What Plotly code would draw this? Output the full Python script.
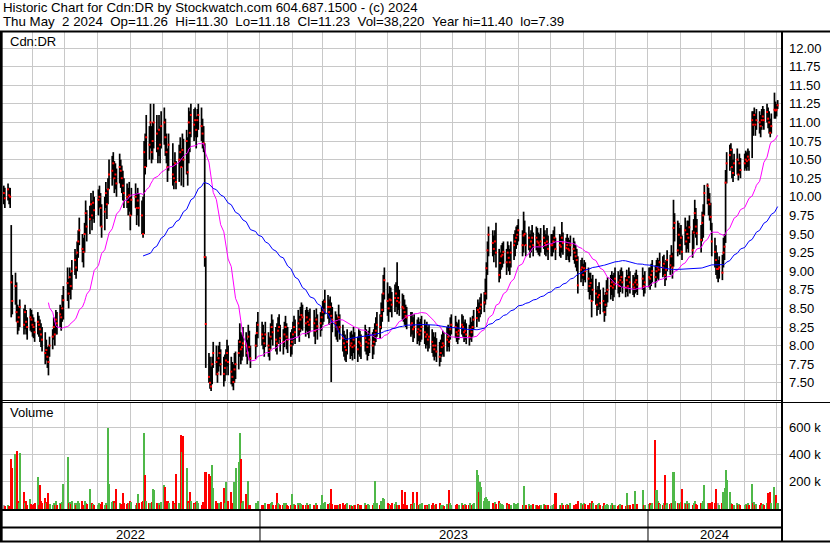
import numpy as np
import pandas as pd
import plotly.graph_objects as go

# ---------------- data ----------------
holidays = ["2022-05-23", "2022-07-01", "2022-08-01", "2022-09-05", "2022-10-10",
            "2022-12-26", "2022-12-27", "2023-01-02", "2023-02-20", "2023-04-07",
            "2023-05-22", "2023-07-03", "2023-08-07", "2023-09-04", "2023-10-09",
            "2023-12-25", "2023-12-26", "2024-01-01", "2024-02-19", "2024-03-29"]

# prices in cents
close_c = [
    1005, 998, 1010, 1002, 1000,
    885,
    860, 880, 845, 832, 838,
    852, 828, 845, 832, 825, 838, 835, 828,
    825, 818, 832, 828, 822, 815, 808,
    790, 794, 785, 778, 800, 812,
    825, 815, 835, 830, 842, 838, 850, 861,
    884, 870, 892, 880, 900, 915, 905, 925,
    940, 955, 930, 926, 950, 978, 960, 970, 990, 975,
    992, 982, 996, 1000, 985, 960, 980, 1005, 990, 1010, 1030,
    1035, 1045, 1025, 1030, 1018, 1040, 1035, 1025, 1015, 1005,
    1000, 993, 1002, 975, 996, 1000, 985, 995, 985, 975,
    950,
    1060, 1040, 1080, 1070, 1100, 1060, 1075, 1100, 1085, 1065, 1090, 1070, 1095, 1100, 1080,
    1060, 1040, 1070, 1030, 1025, 1045, 1020, 1050, 1060, 1040,
    1063, 1050, 1075, 1033, 1100, 1086, 1110, 1097, 1103, 1090, 1103, 1110, 1095, 1085, 1072,
    919, 829,
    758, 750, 745, 775, 790, 778, 762,
    783, 790, 775, 762, 770, 780, 790, 778, 765, 758, 751, 768, 775, 790, 805, 795, 798, 803,
    800, 790, 812, 798, 783, 800, 817, 828, 815,
    810, 803, 815, 800, 795, 812, 825, 818, 808, 803, 820, 825, 810, 805, 815, 825, 812, 808, 800, 805,
    815, 825, 818, 830, 822, 835, 841, 838, 830, 838, 832, 828, 835, 830, 820, 835, 826, 830, 838, 845,
    848, 859, 852, 845, 852, 840, 835, 830, 825, 822,
    838, 825, 810, 803, 798, 794, 805, 800, 803, 798, 808, 800, 795, 805, 803, 800, 810, 805, 798, 803, 808, 800, 805,
    815, 820, 828, 825, 840, 848, 870, 888, 860, 850, 862, 861, 855, 864, 870, 860, 864, 858, 852, 850, 845,
    840, 838, 828, 830, 822, 825, 818, 822, 815, 820, 825, 818, 812, 815, 808, 812, 805, 800, 795, 800, 792, 785, 790, 798, 803, 800, 808, 812,
    805, 822, 828, 825, 818, 815, 820, 828, 825, 818, 820, 815, 812, 822, 818, 825,
    835, 837, 848, 845, 850, 855, 858, 870, 904,
    928, 949, 938, 930, 940, 925, 895, 911, 920, 922, 926, 912, 925, 918, 912, 925, 935, 940,
    945, 949, 955, 935, 948, 950, 935, 945, 933, 940, 945, 935, 945, 940, 938, 935, 940, 945, 938, 935, 940, 930, 935,
    935, 940, 945, 930, 935, 933, 945, 938, 931, 935, 930, 928, 935, 930, 925, 920, 915,
    881, 902, 905, 895, 904, 900, 890, 880, 884, 860,
    875, 870, 855, 865, 868, 857, 860, 845, 855, 870, 875, 880, 885, 878, 882,
    890, 885, 880, 888, 892, 885, 878, 888, 880, 892, 885, 882, 878, 885, 888, 882, 890, 880, 885, 892, 890, 895, 900, 892, 900, 905,
    902, 912, 905, 910, 895, 902, 915, 908, 920, 905,
    958,
    965, 928, 949, 935, 945, 926, 955, 940, 950,
    945, 959, 928, 952, 978, 960, 951, 942, 965, 975, 1005, 1015, 996, 990,
    973, 940, 926, 915, 903, 903, 905, 898, 925, 933,
    1019,
    1045, 1056, 1063, 1040, 1032, 1045, 1050, 1030, 1045, 1036,
    1045, 1050, 1048, 1054, 1050, 1103, 1097, 1110,
    1097, 1103, 1100, 1095, 1103, 1108, 1103, 1114, 1105, 1100, 1086, 1095, 1117, 1116,
    1117, 1123,
]

high_c = [
    1015, 1012, 1018, 1012, 1012,
    962,
    895, 898, 885, 855, 852,
    862, 850, 855, 848, 838, 850, 848, 842,
    838, 832, 845, 840, 835, 830, 825,
    818, 808, 798, 800, 812, 822,
    838, 832, 848, 845, 855, 852, 868, 880,
    905, 890, 905, 898, 915, 930, 922, 940,
    955, 972, 950, 945, 965, 995, 982, 988, 1005, 995,
    1008, 1000, 1010, 1015, 1005, 990, 1000, 1020, 1010, 1025, 1050,
    1055, 1060, 1048, 1045, 1038, 1058, 1050, 1042, 1035, 1025,
    1018, 1012, 1020, 1000, 1012, 1018, 1005, 1012, 1005, 995,
    1000,
    1075, 1085, 1110, 1095, 1125, 1095, 1100, 1125, 1110, 1090, 1110, 1095, 1115, 1120, 1105,
    1085, 1065, 1085, 1072, 1045, 1060, 1048, 1070, 1080, 1065,
    1085, 1078, 1090, 1080, 1120, 1115, 1125, 1118, 1120, 1108, 1118, 1125, 1120, 1105, 1095,
    1072, 920,
    790, 785, 772, 785, 805, 800, 785,
    800, 805, 795, 785, 788, 795, 808, 800, 785, 778, 775, 790, 792, 808, 830, 818, 815, 825,
    818, 808, 828, 820, 800, 815, 832, 845, 832,
    828, 818, 832, 818, 812, 830, 842, 835, 825, 830, 838, 842, 828, 822, 832, 840, 830, 825, 818, 822,
    832, 840, 835, 848, 840, 852, 858, 855, 848, 852, 848, 845, 850, 848, 838, 850, 842, 845, 852, 860,
    862, 875, 868, 862, 866, 858, 852, 846, 842, 838,
    855, 842, 828, 820, 815, 810, 822, 818, 820, 815, 825, 818, 812, 822, 820, 815, 828, 822, 815, 820, 825, 818, 822,
    830, 838, 845, 842, 858, 870, 895, 905, 885, 870, 880, 878, 872, 882, 885, 912, 880, 875, 870, 868, 862,
    855, 852, 845, 845, 838, 842, 835, 838, 832, 836, 840, 835, 828, 832, 825, 828, 822, 818, 812, 818, 810, 805, 808, 815, 820, 818, 825, 828,
    825, 838, 842, 840, 832, 830, 835, 842, 840, 832, 835, 830, 828, 838, 832, 840,
    848, 852, 862, 858, 865, 870, 872, 890, 912,
    940, 960, 955, 948, 955, 965, 930, 925, 935, 938, 940, 930, 940, 935, 930, 940, 950, 955,
    960, 962, 970, 955, 980, 968, 952, 960, 950, 955, 962, 952, 960, 958, 952, 950, 958, 962, 955, 950, 958, 948, 950,
    950, 955, 960, 945, 950, 948, 966, 952, 945, 950, 945, 942, 948, 945, 940, 935, 930,
    920, 915, 918, 910, 915, 912, 905, 898, 898, 890,
    895, 890, 875, 880, 885, 875, 878, 868, 872, 888, 892, 895, 900, 895, 898,
    905, 900, 895, 902, 905, 900, 892, 902, 895, 905, 900, 895, 892, 898, 902, 895, 905, 895, 900, 905, 905, 910, 915, 908, 915, 918,
    915, 925, 920, 922, 912, 915, 928, 922, 935, 925,
    996,
    978, 968, 965, 958, 962, 948, 972, 960, 968,
    968, 975, 955, 970, 996, 985, 970, 962, 980, 990, 1016, 1018, 1012, 1005,
    992, 965, 945, 935, 925, 915, 920, 922, 945, 950,
    1036,
    1060, 1070, 1072, 1065, 1050, 1058, 1065, 1048, 1058, 1052,
    1058, 1062, 1060, 1065, 1062, 1115, 1115, 1120,
    1112, 1118, 1115, 1110, 1118, 1122, 1118, 1125, 1120, 1115, 1105, 1112, 1140, 1128,
    1125, 1130,
]

low_c = [
    990, 985, 995, 990, 985,
    838,
    842, 855, 832, 815, 820,
    825, 815, 822, 815, 808, 820, 818, 812,
    810, 805, 815, 812, 805, 798, 792,
    775, 780, 770, 760, 785, 795,
    808, 800, 815, 815, 825, 820, 832, 835,
    860, 850, 868, 862, 875, 895, 890, 900,
    918, 935, 912, 905, 925, 950, 940, 950, 968, 955,
    970, 965, 975, 985, 960, 945, 955, 985, 970, 990, 1010,
    1015, 1025, 1005, 1010, 1000, 1018, 1012, 1005, 995, 985,
    985, 975, 980, 955, 975, 985, 962, 975, 960, 950,
    945,
    950, 1030, 1040, 1050, 1065, 1045, 1050, 1065, 1060, 1045, 1055, 1045, 1065, 1070, 1055,
    1045, 1020, 1035, 1015, 1010, 1020, 1010, 1020, 1040, 1015,
    1040, 1013, 1030, 1015, 1045, 1060, 1080, 1075, 1080, 1065, 1080, 1090, 1075, 1065, 1060,
    906, 770,
    750, 742, 739, 748, 770, 760, 750,
    765, 772, 760, 745, 752, 760, 772, 760, 748, 745, 740, 750, 755, 768, 785, 775, 780, 785,
    785, 775, 792, 780, 770, 782, 798, 810, 800,
    795, 785, 798, 785, 780, 795, 808, 800, 792, 788, 802, 808, 792, 788, 798, 808, 795, 790, 785, 788,
    800, 808, 802, 812, 805, 818, 822, 820, 812, 820, 815, 810, 818, 812, 802, 818, 808, 812, 820, 828,
    832, 842, 836, 828, 835, 751, 818, 812, 808, 805,
    818, 808, 792, 785, 780, 778, 788, 782, 786, 780, 790, 782, 778, 788, 785, 782, 792, 788, 780, 786, 790, 782, 788,
    800, 805, 812, 810, 822, 832, 845, 862, 840, 832, 845, 845, 838, 845, 852, 842, 848, 840, 835, 832, 828,
    825, 822, 812, 815, 805, 810, 802, 806, 800, 805, 808, 802, 796, 800, 792, 796, 790, 785, 780, 785, 778, 772, 778, 785, 788, 785, 792, 798,
    792, 808, 815, 810, 805, 802, 808, 815, 812, 805, 808, 802, 800, 808, 805, 812,
    822, 825, 835, 832, 838, 842, 845, 855, 862,
    895, 920, 920, 912, 922, 905, 885, 890, 902, 905, 910, 895, 905, 900, 895, 905, 915, 920,
    930, 935, 940, 920, 925, 935, 920, 928, 918, 925, 930, 920, 928, 925, 922, 920, 925, 930, 922, 920, 925, 915, 920,
    920, 925, 930, 915, 920, 918, 925, 922, 915, 920, 915, 912, 920, 915, 910, 905, 900,
    870, 885, 890, 880, 888, 885, 872, 862, 868, 838,
    860, 855, 840, 848, 852, 842, 845, 832, 840, 852, 858, 862, 868, 860, 865,
    875, 870, 865, 872, 878, 870, 865, 872, 866, 878, 870, 868, 865, 870, 872, 868, 875, 866, 870, 878, 875, 880, 885, 878, 885, 890,
    888, 898, 892, 895, 880, 888, 900, 895, 905, 890,
    906,
    940, 920, 925, 922, 928, 915, 935, 925, 930,
    925, 938, 918, 930, 950, 945, 935, 925, 940, 945, 975, 990, 975, 968,
    955, 920, 905, 895, 890, 885, 890, 888, 905, 915,
    938,
    1018, 1035, 1040, 1025, 1020, 1028, 1030, 1022, 1030, 1025,
    1035, 1038, 1035, 1040, 1035, 1052, 1082, 1095,
    1082, 1090, 1085, 1080, 1090, 1095, 1090, 1100, 1092, 1085, 1080, 1085, 1105, 1105,
    1108, 1118,
]

# volume in thousands of shares
vol_k = [
    25, 18, 30, 22, 20,
    368,
    298, 403, 426, 60, 45,
    415, 123, 40, 55, 30, 70, 35, 25,
    35, 40, 233, 30, 175, 60, 45,
    80, 40, 50, 119, 35, 30,
    45, 30, 55, 25, 40, 35, 50, 182,
    384, 40, 50, 35, 60, 45, 30, 40,
    55, 45, 60, 25, 55, 40, 35, 147, 30, 40,
    35, 30, 25, 40, 35, 50, 30, 45, 25, 601, 182,
    50, 60, 60, 40, 147, 45, 35, 30, 119, 40,
    35, 40, 45, 60, 50, 30, 45, 107, 40, 50,
    55,
    562, 247, 60, 45, 40, 50, 146, 135, 45, 35, 40, 30, 50, 175, 158,
    50, 60, 45, 55, 40, 35, 259, 45, 40, 548,
    422, 538, 298, 60, 45, 123, 55, 40, 35, 50, 60, 45, 30, 50, 45,
    275, 268,
    256, 240, 198, 322, 151, 60, 45,
    45, 35, 50, 151, 40, 198, 45, 55, 123, 40, 35, 197, 298, 345, 561, 368, 40, 60,
    112, 35, 205, 30, 25, 40, 35, 55, 30,
    30, 25, 40, 35, 20, 45, 50, 30, 25, 116, 40, 35, 30, 25, 45, 40, 30, 20, 25, 107,
    30, 35, 25, 40, 30, 45, 35, 25, 30, 40, 25, 30, 35, 25, 30, 40, 25, 30, 100, 45,
    45, 50, 35, 30, 40, 146, 35, 30, 25, 30,
    25, 35, 40, 30, 25, 35, 45, 30, 25, 20, 30, 25, 35, 30, 25, 30, 40, 25, 30, 35, 25, 30, 40,
    204, 45, 40, 25, 55, 60, 80, 70, 40, 35, 30, 25, 40, 35, 50, 30, 25, 30, 135, 35, 123,
    30, 25, 35, 30, 123, 40, 123, 30, 25, 35, 40, 30, 25, 20, 30, 35, 25, 40, 30, 25, 35, 45, 30, 30, 25, 20, 35, 30,
    135, 40, 30, 25, 35, 30, 25, 40, 30, 25, 35, 30, 25, 40, 30, 35,
    40, 285, 250, 123, 197, 158, 60, 80, 90,
    70, 60, 45, 40, 50, 35, 55, 40, 30, 35, 25, 40, 30, 35, 25, 30, 40, 35,
    35, 30, 40, 25, 170, 30, 25, 35, 20, 30, 25, 35, 30, 25, 20, 30, 25, 35, 30, 25, 30, 25, 20,
    30, 25, 35, 118, 30, 25, 40, 30, 25, 35, 30, 25, 40, 30, 25, 35, 30,
    60, 40, 35, 30, 45, 35, 30, 40, 45, 55,
    40, 30, 25, 35, 40, 25, 20, 45, 30, 35, 25, 30, 40, 25, 30,
    25, 20, 30, 35, 25, 30, 20, 116, 25, 30, 25, 35, 30, 128, 30, 35, 139, 25, 30, 35, 40, 30, 45, 505, 139, 60,
    40, 35, 30, 45, 246, 30, 40, 35, 45, 40,
    274,
    60, 45, 40, 35, 50, 142, 40, 35, 55,
    35, 40, 30, 45, 60, 35, 30, 40, 45, 55, 176, 45, 40, 35,
    40, 50, 45, 146, 35, 40, 30, 45, 120, 150,
    290,
    211, 123, 40, 35, 30, 25, 45, 30, 35, 25,
    30, 35, 25, 40, 30, 181, 45, 50,
    30, 35, 25, 40, 30, 35, 25, 40, 116, 30, 123, 45, 162, 100,
    45, 38.22,
]

price_ticks = [7.50, 7.75, 8.00, 8.25, 8.50, 8.75, 9.00, 9.25, 9.50, 9.75,
               10.00, 10.25, 10.50, 10.75, 11.00, 11.25, 11.50, 11.75, 12.00]
vol_ticks = [200, 400, 600]
vol_tick_text = ["200 k", "400 k", "600 k"]
years = ["2022", "2023", "2024"]
ma_windows = [30, 90]

header1 = "Historic Chart for Cdn:DR by Stockwatch.com 604.687.1500 - (c) 2024"
header2 = ("Thu May \u00a02 2024 \u00a0Op=11.26 \u00a0Hi=11.30 \u00a0Lo=11.18 \u00a0Cl=11.23 "
           "\u00a0Vol=38,220 \u00a0Year hi=11.40 \u00a0lo=7.39")

# ---------------- derived series ----------------
dates = pd.bdate_range("2022-05-05", "2024-05-02", freq="C", holidays=holidays)
n = min(len(dates), len(close_c), len(high_c), len(low_c), len(vol_k))
dates = dates[-n:]
close = np.array(close_c[-n:], dtype=float) / 100
high = np.array(high_c[-n:], dtype=float) / 100
low = np.array(low_c[-n:], dtype=float) / 100
vol = np.array(vol_k[-n:], dtype=float)

s = pd.Series(close, index=dates)
ma_fast = s.rolling(ma_windows[0]).mean()
ma_slow = s.rolling(ma_windows[1]).mean()

GREEN, RED, GREY = "#4fb848", "#ff0000", "#a8a8a8"
chg = np.diff(close, prepend=np.nan)
vcol = np.where(chg > 0, GREEN, np.where(chg < 0, RED, GREY))

# ---------------- geometry ----------------
W, H = 830, 543
PX_PER_DAY = 388 / 365
X_LEFT, X_RIGHT = 2, 781
FIRST_PX = 3.8
t0 = dates[0]
r0 = t0 - pd.Timedelta(days=(FIRST_PX - X_LEFT) / PX_PER_DAY)
r1 = t0 + pd.Timedelta(days=(X_RIGHT - FIRST_PX) / PX_PER_DAY)


def fy(px):
    return 1 - px / H


P_PER_UNIT = 74.4
p_top = 12 + (48 - 32) / P_PER_UNIT
p_bot = 12 - (400 - 48) / P_PER_UNIT

months = pd.date_range("2022-06-01", "2024-05-01", freq="MS")
GRID = "#c8c8c8"
FONT = "Liberation Sans, Arial, sans-serif"

fig = go.Figure()

fig.add_trace(go.Bar(
    x=dates, y=vol, marker=dict(color=vcol, line=dict(width=0)),
    width=86400000 * 1.9, xaxis="x2", yaxis="y2", hoverinfo="skip"))

fig.add_trace(go.Scatter(
    x=dates, y=close, mode="markers",
    marker=dict(symbol="square", size=2, color="red", line=dict(width=0)),
    error_y=dict(type="data", symmetric=False, array=high - close,
                 arrayminus=close - low, color="black", thickness=1.7, width=0),
    xaxis="x", yaxis="y", hoverinfo="skip"))

fig.add_trace(go.Scatter(x=dates, y=ma_fast, mode="lines",
                         line=dict(color="#ff00ff", width=1), xaxis="x", yaxis="y",
                         hoverinfo="skip"))
fig.add_trace(go.Scatter(x=dates, y=ma_slow, mode="lines",
                         line=dict(color="#0000ff", width=1), xaxis="x", yaxis="y",
                         hoverinfo="skip"))

xcommon = dict(type="date", range=[r0, r1], domain=[X_LEFT / W, X_RIGHT / W],
               tickvals=months, showticklabels=False, ticks="", showgrid=True,
               gridcolor=GRID, gridwidth=1, zeroline=False, showline=False,
               fixedrange=True)

shapes = []


def hline(y, x0, x1, w):
    shapes.append(dict(type="line", xref="paper", yref="paper", x0=x0 / W, x1=x1 / W,
                       y0=fy(y), y1=fy(y), line=dict(color="black", width=w)))


def vline(x, y0, y1, w):
    shapes.append(dict(type="line", xref="paper", yref="paper", x0=x / W, x1=x / W,
                       y0=fy(y0), y1=fy(y1), line=dict(color="black", width=w)))


hline(31.5, 0, W, 2)
hline(400.5, 0, 782, 1)
hline(402.5, 0, W, 1)
hline(510, 0, 782, 2)
hline(527.5, 0, 782, 2)
hline(541.5, 0, W, 2)
vline(1.3, 31, 542, 2.7)
vline(782, 31, 542, 2)

year_starts = [pd.Timestamp(f"{y}-01-01") for y in years[1:]]
for ys in year_starts:
    shapes.append(dict(type="line", xref="x", yref="paper", x0=ys, x1=ys,
                       y0=fy(510), y1=fy(541), line=dict(color="black", width=1)))

bounds = [r0] + year_starts + [r1]
annotations = []
for i, y in enumerate(years):
    mid = bounds[i] + (bounds[i + 1] - bounds[i]) / 2
    annotations.append(dict(text=y, xref="x", yref="paper", x=mid, y=fy(534.5),
                            showarrow=False, xanchor="center", yanchor="middle",
                            font=dict(family=FONT, size=13, color="black")))


def label(text, x, y, size=13):
    annotations.append(dict(text=text, xref="paper", yref="paper", x=x / W, y=fy(y),
                            showarrow=False, xanchor="left", yanchor="middle",
                            font=dict(family=FONT, size=size, color="black")))


label(header1, 1, 7.5, 13.3)
label(header2, 1, 21.5, 13.3)
label("Cdn:DR", 8, 41)
label("Volume", 8, 413)

fig.update_layout(
    width=W, height=H,
    margin=dict(l=0, r=0, t=0, b=0, pad=0, autoexpand=False),
    paper_bgcolor="white", plot_bgcolor="white",
    showlegend=False, hovermode=False, bargap=0,
    font=dict(family=FONT, size=13, color="black"),
    xaxis=dict(anchor="y", **xcommon),
    xaxis2=dict(anchor="y2", matches="x", **xcommon),
    yaxis=dict(domain=[fy(400), fy(32)], range=[p_bot, p_top], side="right",
               anchor="x", tickvals=price_ticks,
               ticktext=[f"{v:.2f}" for v in price_ticks], ticks="",
               ticklabelstandoff=7, showgrid=True, gridcolor=GRID, gridwidth=1,
               zeroline=False, showline=False, fixedrange=True,
               tickfont=dict(family=FONT, size=13, color="black")),
    yaxis2=dict(domain=[fy(510), fy(402)], range=[-10, 790], side="right",
                anchor="x2", tickvals=vol_ticks, ticktext=vol_tick_text, ticks="",
                ticklabelstandoff=7, showgrid=True, gridcolor=GRID, gridwidth=1,
                zeroline=False, showline=False, fixedrange=True,
                tickfont=dict(family=FONT, size=13, color="black")),
    shapes=shapes,
    annotations=annotations,
)

fig.write_html(
    "out.html",
    config={"staticPlot": True},
    post_script="document.body.style.margin='0px';document.body.style.overflow='hidden';",
)
